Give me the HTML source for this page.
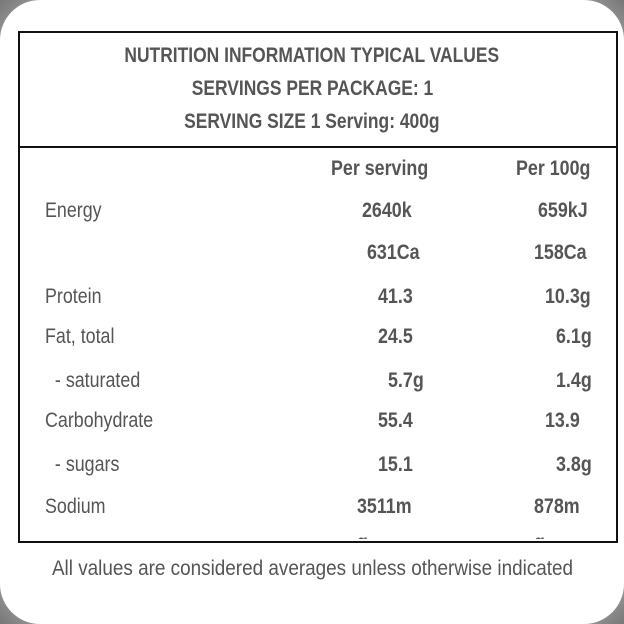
<!DOCTYPE html>
<html><head><meta charset="utf-8">
<style>
html,body{margin:0;padding:0;}
body{width:624px;height:624px;position:relative;overflow:hidden;background:#8a8a8a;font-family:"Liberation Sans",sans-serif;color:#555;}
.bg{position:absolute;left:0;top:0;width:624px;height:624px;background:radial-gradient(circle at 50% 50%,#fff 60%,#ddd 80%,#777 100%);}
.card{position:absolute;left:0;top:0;width:624px;height:624px;background:#fff;border-radius:40px;}
.box{position:absolute;left:18px;top:31px;width:596px;height:508px;border:2px solid #111;}
.hline{position:absolute;left:18px;top:146px;width:600px;height:2px;background:#111;}
.t{position:absolute;white-space:nowrap;font-size:21px;line-height:22px;transform:scaleX(0.85);transform-origin:left center;}
.b{font-weight:bold;}
.c{position:absolute;left:0;width:624px;text-align:center;white-space:nowrap;font-size:21px;line-height:22px;}
.c span{display:inline-block;transform:scaleX(0.83);}
.clip{position:absolute;left:20px;top:150px;width:596px;height:389px;overflow:hidden;}
</style></head>
<body>
<div class="bg"></div>
<div class="card">
<div class="box"></div>
<div class="hline"></div>
<div class="c b" style="top:45px"><span>NUTRITION INFORMATION TYPICAL VALUES</span></div>
<div class="c b" style="top:78px"><span>SERVINGS PER PACKAGE: 1</span></div>
<div class="c b" style="top:111px"><span>SERVING SIZE 1 Serving: 400g</span></div>
<div class="clip">
<div class="t b" style="left:311px;top:8px">Per serving</div>
<div class="t b" style="left:496px;top:8px">Per 100g</div>

<div class="t" style="left:25px;top:50px">Energy</div>
<div class="t b" style="left:342px;top:50px">2640k</div>
<div class="t b" style="left:518px;top:50px">659kJ</div>
<div class="t b" style="left:347px;top:92px">631Ca</div>
<div class="t b" style="left:514px;top:92px">158Ca</div>

<div class="t" style="left:25px;top:136px">Protein</div>
<div class="t b" style="left:358px;top:136px">41.3</div>
<div class="t b" style="left:525px;top:136px">10.3g</div>

<div class="t" style="left:25px;top:176px">Fat, total</div>
<div class="t b" style="left:358px;top:176px">24.5</div>
<div class="t b" style="left:536px;top:176px">6.1g</div>

<div class="t" style="left:25px;top:220px">&nbsp; - saturated</div>
<div class="t b" style="left:368px;top:220px">5.7g</div>
<div class="t b" style="left:536px;top:220px">1.4g</div>

<div class="t" style="left:25px;top:260px">Carbohydrate</div>
<div class="t b" style="left:358px;top:260px">55.4</div>
<div class="t b" style="left:525px;top:260px">13.9</div>

<div class="t" style="left:25px;top:304px">&nbsp; - sugars</div>
<div class="t b" style="left:358px;top:304px">15.1</div>
<div class="t b" style="left:536px;top:304px">3.8g</div>

<div class="t" style="left:25px;top:346px">Sodium</div>
<div class="t b" style="left:337px;top:346px;line-height:36px;margin-top:-7px">3511m<br>g</div>
<div class="t b" style="left:514px;top:346px;line-height:36px;margin-top:-7px">878m<br>g</div>
</div>
<div class="c" style="top:558px"><span style="transform:scaleX(0.9)">All values are considered averages unless otherwise indicated</span></div>
</div>
</body></html>
